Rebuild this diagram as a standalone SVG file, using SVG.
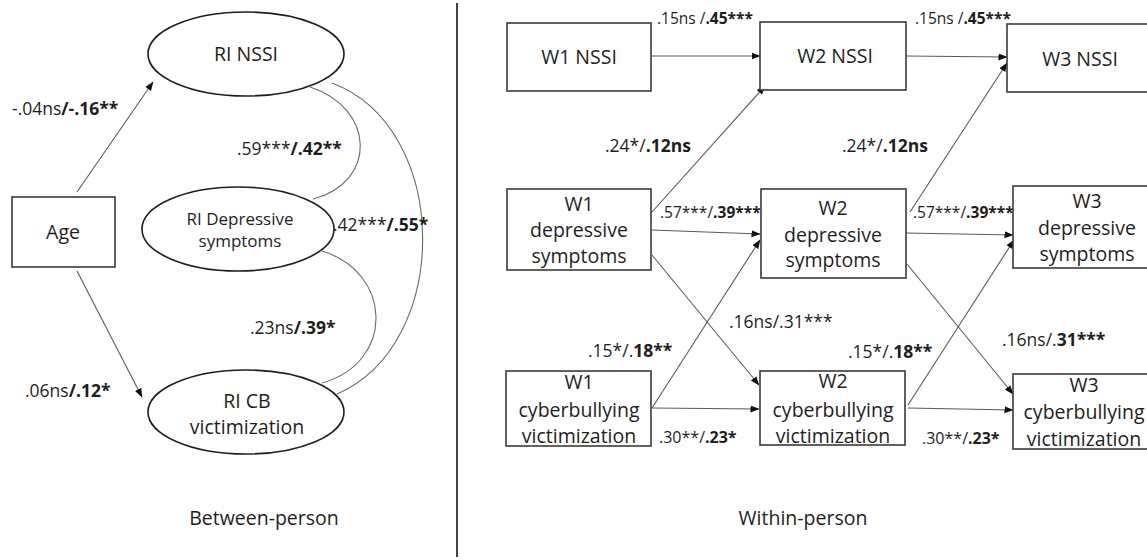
<svg xmlns="http://www.w3.org/2000/svg" width="1147" height="560" viewBox="0 0 1147 560">
<style>
.bg{fill:#fff}
.box{fill:#fff;stroke:#3a3a3a;stroke-width:1.6}
.ell{fill:#fff;stroke:#1e1e1e;stroke-width:1.6}
.t{font-family:"Open Sans","Liberation Sans",sans-serif;fill:#1e1e1e;text-anchor:middle}
.n{font-size:19.5px}
.ns{font-size:17px}
.l{font-family:"Open Sans","Liberation Sans",sans-serif;fill:#1e1e1e;font-size:17.5px}
.s{font-size:15.5px}
.m{font-size:16px}
.b{font-weight:bold}
.c{fill:none;stroke:#6a6a6a;stroke-width:1.1}
.a{fill:none;stroke:#5a5a5a;stroke-width:1.1;marker-end:url(#ah)}
</style>
<defs>
<marker id="ah" markerWidth="9" markerHeight="8" refX="8.5" refY="4" orient="auto" markerUnits="userSpaceOnUse">
<path d="M0,0.5 L9,4 L0,7.5 Z" fill="#111"/>
</marker>
</defs>
<rect class="bg" x="0" y="0" width="1147" height="560"/>
<line x1="457" y1="3" x2="457" y2="557" stroke="#444" stroke-width="2"/>

<g id="connectors">
<path class="a" d="M77,192 L153,82"/>
<path class="a" d="M77,271 L142,397"/>
<path class="c" d="M310,87 C375,108 378,182 313,199"/>
<path class="c" d="M332,83 C452,128 452,345 337,394"/>
<path class="c" d="M322,251 C392,272 396,362 322,383"/>
<path class="a" d="M647,56 L760,56"/>
<path class="a" d="M906,56 L1007,57"/>
<path class="a" d="M652,212 L765,86"/>
<path class="a" d="M910,212 L1007,63"/>
<path class="a" d="M652,230 L760,234"/>
<path class="a" d="M906,233 L1013,235"/>
<path class="a" d="M652,255 L759,385"/>
<path class="a" d="M652,408 L760,240"/>
<path class="a" d="M652,408 L759,409"/>
<path class="a" d="M907,264 L1013,394"/>
<path class="a" d="M908,405 L1014,240"/>
<path class="a" d="M908,408 L1013,410"/>
</g>

<g id="labels">
<text class="l" x="12" y="115">-.04ns<tspan class="b">/-.16**</tspan></text>
<text class="l" x="25" y="397">.06ns<tspan class="b">/.12*</tspan></text>
<text class="l" x="237" y="155">.59***<tspan class="b">/.42**</tspan></text>
<text class="l" x="333" y="231">.42***<tspan class="b">/.55*</tspan></text>
<text class="l" x="250" y="334">.23ns<tspan class="b">/.39*</tspan></text>
<text class="l s" x="657" y="24">.15ns /<tspan class="b">.45***</tspan></text>
<text class="l s" x="915" y="24">.15ns /<tspan class="b">.45***</tspan></text>
<text class="l" x="605" y="152">.24*/<tspan class="b">.12ns</tspan></text>
<text class="l" x="842" y="152">.24*/<tspan class="b">.12ns</tspan></text>
<text class="l s" x="660" y="218">.57***/<tspan class="b">.39***</tspan></text>
<text class="l s" x="913" y="218">.57***/<tspan class="b">.39***</tspan></text>
<text class="l" x="729" y="328">.16ns/.31***</text>
<text class="l" x="1002" y="346">.16ns/.<tspan class="b">31***</tspan></text>
<text class="l" x="588" y="357">.15*/.<tspan class="b">18**</tspan></text>
<text class="l" x="848" y="358">.15*/.<tspan class="b">18**</tspan></text>
<text class="l m" x="659" y="443">.30**/<tspan class="b">.23*</tspan></text>
<text class="l m" x="922" y="444">.30**/<tspan class="b">.23*</tspan></text>
<text class="t n" x="264" y="525">Between-person</text>
<text class="t n" x="803" y="525">Within-person</text>
</g>

<g id="age">
<rect class="box" x="12" y="197" width="103" height="70"/>
<text class="t n" x="63" y="239">Age</text>
</g>
<g id="ri-nssi">
<ellipse class="ell" cx="246" cy="54" rx="98" ry="42"/>
<text class="t n" x="246" y="61">RI NSSI</text>
</g>
<g id="ri-dep">
<ellipse class="ell" cx="238" cy="229" rx="96" ry="42"/>
<text class="t ns" x="240" y="225">RI Depressive</text>
<text class="t ns" x="240" y="247">symptoms</text>
</g>
<g id="ri-cb">
<ellipse class="ell" cx="246" cy="412" rx="98" ry="42"/>
<text class="t n" x="247" y="408">RI CB</text>
<text class="t n" x="247" y="434">victimization</text>
</g>

<g id="w1-nssi">
<rect class="box" x="507" y="23" width="144" height="68"/>
<text class="t n" x="579" y="64">W1 NSSI</text>
</g>
<g id="w2-nssi">
<rect class="box" x="760" y="22" width="146" height="68"/>
<text class="t n" x="835" y="63">W2 NSSI</text>
</g>
<g id="w3-nssi">
<rect class="box" x="1007" y="24" width="150" height="68"/>
<text class="t n" x="1080" y="66">W3 NSSI</text>
</g>
<g id="w1-dep">
<rect class="box" x="507" y="189" width="144" height="81"/>
<text class="t n" x="579" y="211">W1</text>
<text class="t n" x="579" y="237">depressive</text>
<text class="t n" x="579" y="263">symptoms</text>
</g>
<g id="w2-dep">
<rect class="box" x="761" y="189" width="145" height="89"/>
<text class="t n" x="833" y="215">W2</text>
<text class="t n" x="833" y="242">depressive</text>
<text class="t n" x="833" y="267">symptoms</text>
</g>
<g id="w3-dep">
<rect class="box" x="1013" y="186" width="150" height="82"/>
<text class="t n" x="1087" y="208">W3</text>
<text class="t n" x="1087" y="235">depressive</text>
<text class="t n" x="1087" y="261">symptoms</text>
</g>
<g id="w1-cb">
<rect class="box" x="506" y="371" width="145" height="75"/>
<text class="t n" x="579" y="389">W1</text>
<text class="t n" x="579" y="417">cyberbullying</text>
<text class="t n" x="579" y="443">victimization</text>
</g>
<g id="w2-cb">
<rect class="box" x="760" y="371" width="145" height="74"/>
<text class="t n" x="833" y="388">W2</text>
<text class="t n" x="833" y="417">cyberbullying</text>
<text class="t n" x="833" y="443">victimization</text>
</g>
<g id="w3-cb">
<rect class="box" x="1013" y="374" width="150" height="75"/>
<text class="t n" x="1084" y="392">W3</text>
<text class="t n" x="1084" y="419">cyberbullying</text>
<text class="t n" x="1084" y="446">victimization</text>
</g>
</svg>
